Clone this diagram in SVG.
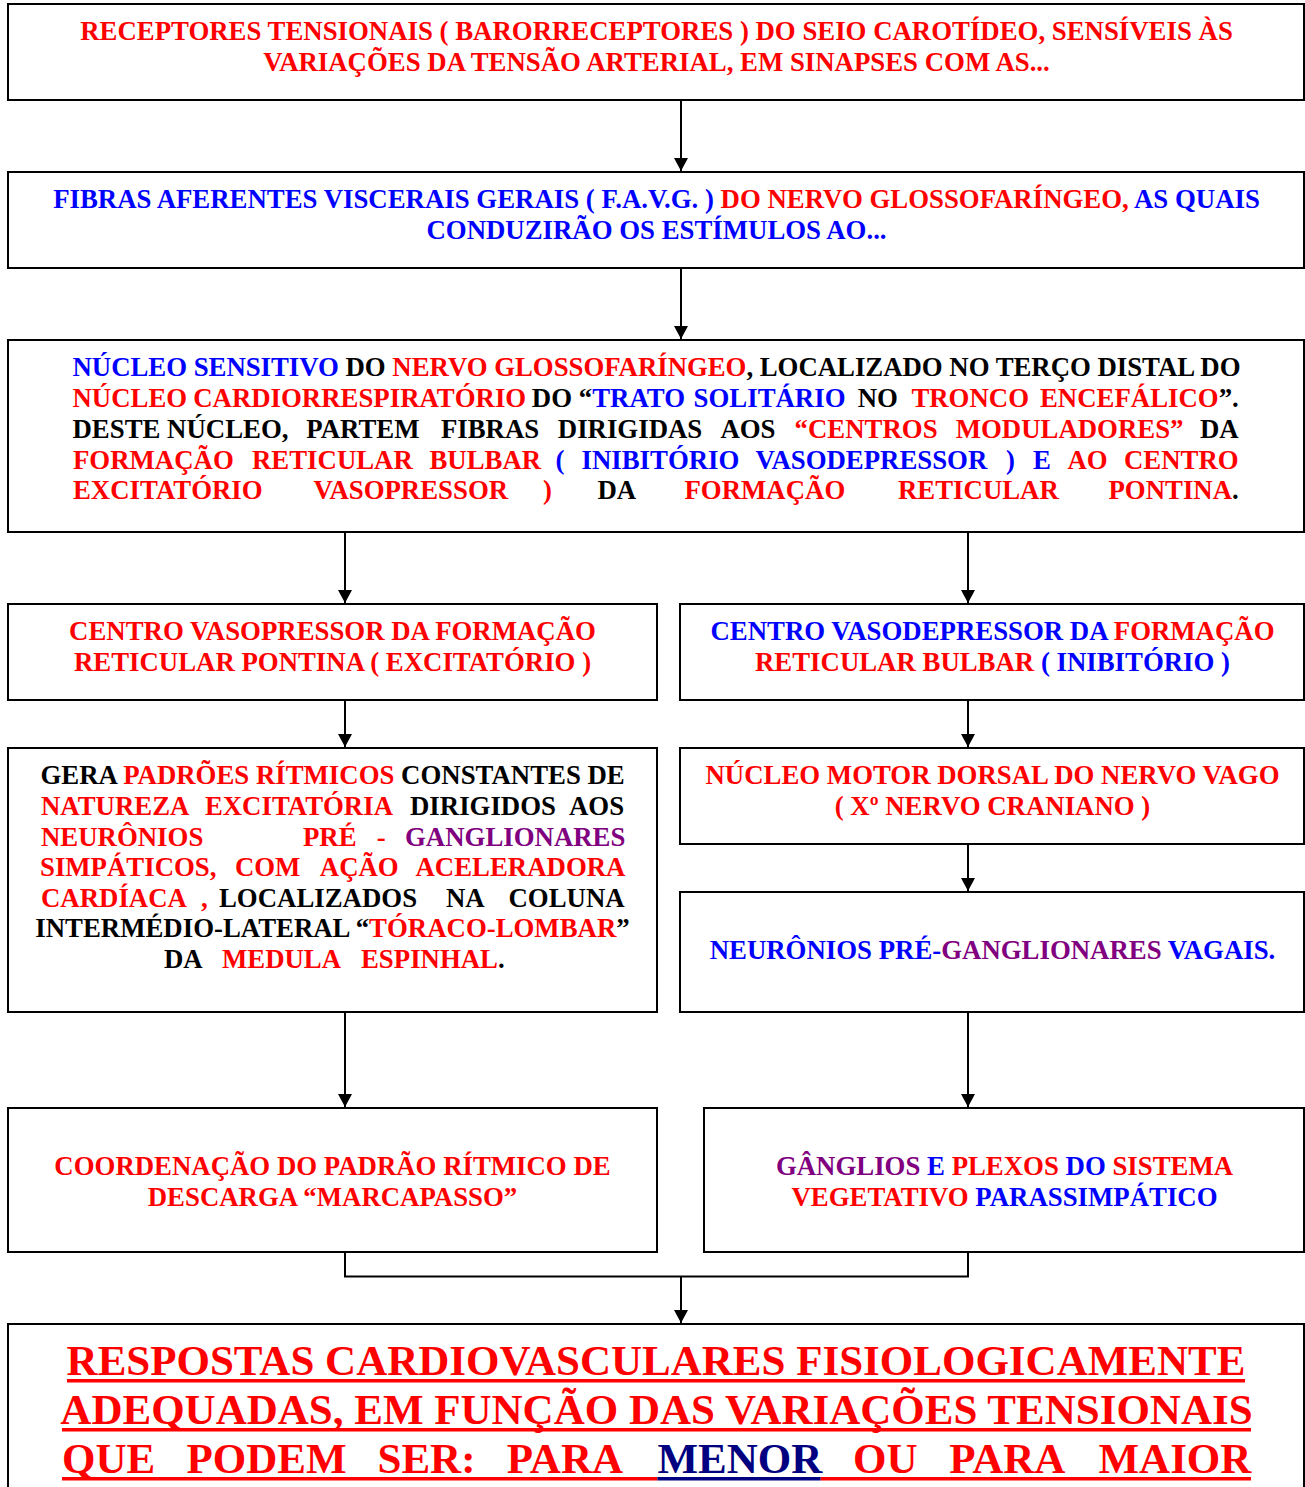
<svg xmlns="http://www.w3.org/2000/svg" width="1305" height="1487" viewBox="0 0 1305 1487">
  <style>
    .t { font-family: "Liberation Serif", "Times New Roman", serif; font-weight: bold; font-size: 26.8px; }
    .big { font-size: 43px; }
    .r { fill: #ff0000; }
    .b { fill: #0000ff; }
    .p { fill: #800080; }
    .k { fill: #000000; }
    .n { fill: #000080; }
    .box { fill: #ffffff; stroke: #000000; stroke-width: 2; }
    .ln { fill: none; stroke: #000000; stroke-width: 2; }
    .arw { fill: none; stroke: #000000; stroke-width: 2; marker-end: url(#head); }
  </style>
  <defs>
    <marker id="head" viewBox="0 0 13 14" refX="13" refY="7" markerWidth="13" markerHeight="14" markerUnits="userSpaceOnUse" orient="auto">
      <path d="M0,0 L13,7 L0,14 z" fill="#000000"/>
    </marker>
  </defs>

  <rect width="1305" height="1487" fill="#ffffff"/>

  <!-- connectors -->
  <g id="connectors">
    <line class="arw" x1="681" y1="100" x2="681" y2="171"/>
    <line class="arw" x1="681" y1="268" x2="681" y2="339"/>
    <line class="arw" x1="345" y1="532" x2="345" y2="603"/>
    <line class="arw" x1="968" y1="532" x2="968" y2="603"/>
    <line class="arw" x1="345" y1="700" x2="345" y2="747"/>
    <line class="arw" x1="968" y1="700" x2="968" y2="747"/>
    <line class="arw" x1="968" y1="844" x2="968" y2="891"/>
    <line class="arw" x1="345" y1="1012" x2="345" y2="1107"/>
    <line class="arw" x1="968" y1="1012" x2="968" y2="1107"/>
    <polyline class="ln" points="345,1252 345,1276.5 968,1276.5 968,1252"/>
    <line class="arw" x1="681" y1="1276.5" x2="681" y2="1323"/>
  </g>

  <!-- receptors -->
  <g id="receptores">
    <rect class="box" x="8" y="4" width="1296" height="96"/>
    <text class="t r" x="656.5" y="40" text-anchor="middle">RECEPTORES TENSIONAIS ( BARORRECEPTORES ) DO SEIO CAROTÍDEO, SENSÍVEIS ÀS</text>
    <text class="t r" x="656.5" y="71" text-anchor="middle">VARIAÇÕES DA TENSÃO ARTERIAL, EM SINAPSES COM AS...</text>
  </g>

  <!-- afferent fibres -->
  <g id="fibras">
    <rect class="box" x="8" y="172" width="1296" height="96"/>
    <text class="t" x="656.5" y="208" text-anchor="middle"><tspan class="b">FIBRAS AFERENTES VISCERAIS GERAIS ( F.A.V.G. ) </tspan><tspan class="r">DO NERVO GLOSSOFARÍNGEO, </tspan><tspan class="b">AS QUAIS</tspan></text>
    <text class="t b" x="656.5" y="239" text-anchor="middle">CONDUZIRÃO OS ESTÍMULOS AO...</text>
  </g>

  <!-- sensory nucleus -->
  <g id="nucleo-sensitivo">
    <rect class="box" x="8" y="340" width="1296" height="192"/>
    <text class="t" x="72.5" y="376" textLength="1168" lengthAdjust="spacing"><tspan class="b">NÚCLEO SENSITIVO </tspan><tspan class="k">DO </tspan><tspan class="r">NERVO GLOSSOFARÍNGEO</tspan><tspan class="k">, LOCALIZADO NO TERÇO DISTAL DO</tspan></text>
    <text class="t" y="407"><tspan class="r" x="72.5">NÚCLEO</tspan><tspan class="r" x="193.2">CARDIORRESPIRATÓRIO</tspan><tspan class="k" x="531.8">DO</tspan><tspan class="k" x="578.8">“</tspan><tspan class="b">TRATO</tspan><tspan class="b" x="693.6">SOLITÁRIO</tspan><tspan class="k" x="857.7">NO</tspan><tspan class="r" x="911.4">TRONCO</tspan><tspan class="r" x="1040">ENCEFÁLICO</tspan><tspan class="k">”.</tspan></text>
    <text class="t" y="438"><tspan class="k" x="72.5">DESTE NÚCLEO,</tspan><tspan class="k" x="306.3">PARTEM</tspan><tspan class="k" x="440.9">FIBRAS</tspan><tspan class="k" x="557.8">DIRIGIDAS</tspan><tspan class="k" x="720.4">AOS</tspan><tspan class="r" x="794.6">“CENTROS</tspan><tspan class="r" x="955.7">MODULADORES”</tspan><tspan class="k" x="1200">DA</tspan></text>
    <text class="t" y="468.5"><tspan class="r" x="73">FORMAÇÃO</tspan><tspan class="r" x="252">RETICULAR</tspan><tspan class="r" x="429.5">BULBAR</tspan><tspan class="b" x="555.5">(</tspan><tspan class="b" x="581.5">INIBITÓRIO</tspan><tspan class="b" x="755.5">VASODEPRESSOR</tspan><tspan class="b" x="1006">)</tspan><tspan class="b" x="1033">E</tspan><tspan class="r" x="1067.5">AO</tspan><tspan class="r" x="1124">CENTRO</tspan></text>
    <text class="t" y="499"><tspan class="r" x="73">EXCITATÓRIO</tspan><tspan class="r" x="313.5">VASOPRESSOR</tspan><tspan class="r" x="543">)</tspan><tspan class="k" x="597.5">DA</tspan><tspan class="r" x="684.5">FORMAÇÃO</tspan><tspan class="r" x="898">RETICULAR</tspan><tspan class="r" x="1108.5">PONTINA</tspan><tspan class="k">.</tspan></text>
  </g>

  <!-- pontine pressor centre -->
  <g id="centro-vasopressor">
    <rect class="box" x="8" y="604" width="649" height="96"/>
    <text class="t r" x="332.5" y="640" text-anchor="middle">CENTRO VASOPRESSOR DA FORMAÇÃO</text>
    <text class="t r" x="332.5" y="671" text-anchor="middle">RETICULAR PONTINA ( EXCITATÓRIO )</text>
  </g>

  <!-- bulbar depressor centre -->
  <g id="centro-vasodepressor">
    <rect class="box" x="680" y="604" width="624" height="96"/>
    <text class="t" x="992.5" y="640" text-anchor="middle"><tspan class="b">CENTRO VASODEPRESSOR DA </tspan><tspan class="r">FORMAÇÃO</tspan></text>
    <text class="t" x="992.5" y="671" text-anchor="middle"><tspan class="r">RETICULAR BULBAR </tspan><tspan class="b">( INIBITÓRIO )</tspan></text>
  </g>

  <!-- rhythmic pattern generator -->
  <g id="padroes-ritmicos">
    <rect class="box" x="8" y="748" width="649" height="264"/>
    <text class="t" x="40.5" y="784"><tspan class="k">GERA </tspan><tspan class="r">PADRÕES RÍTMICOS </tspan><tspan class="k">CONSTANTES DE</tspan></text>
    <text class="t" y="815"><tspan class="r" x="41">NATUREZA</tspan><tspan class="r" x="204.9">EXCITATÓRIA</tspan><tspan class="k" x="410">DIRIGIDOS</tspan><tspan class="k" x="569">AOS</tspan></text>
    <text class="t" y="846"><tspan class="r" x="41">NEURÔNIOS</tspan><tspan class="r" x="303">PRÉ</tspan><tspan class="r" x="376.7">-</tspan><tspan class="p" x="405">GANGLIONARES</tspan></text>
    <text class="t" y="876"><tspan class="r" x="40">SIMPÁTICOS,</tspan><tspan class="r" x="234.9">COM</tspan><tspan class="r" x="319.8">AÇÃO</tspan><tspan class="r" x="415.5">ACELERADORA</tspan></text>
    <text class="t" y="907"><tspan class="r" x="41">CARDÍACA</tspan><tspan class="r" x="201">,</tspan><tspan class="k" x="219">LOCALIZADOS</tspan><tspan class="k" x="446">NA</tspan><tspan class="k" x="508.5">COLUNA</tspan></text>
    <text class="t" x="332.5" y="937" text-anchor="middle"><tspan class="k">INTERMÉDIO-LATERAL “</tspan><tspan class="r">TÓRACO-LOMBAR</tspan><tspan class="k">”</tspan></text>
    <text class="t" y="968"><tspan class="k" x="164">DA</tspan><tspan class="r" x="222">MEDULA</tspan><tspan class="r" x="361">ESPINHAL</tspan><tspan class="k">.</tspan></text>
  </g>

  <!-- dorsal motor nucleus of the vagus -->
  <g id="nucleo-motor-vago">
    <rect class="box" x="680" y="748" width="624" height="96"/>
    <text class="t r" x="992.5" y="784" text-anchor="middle">NÚCLEO MOTOR DORSAL DO NERVO VAGO</text>
    <text class="t r" x="992.5" y="815" text-anchor="middle">( Xº NERVO CRANIANO )</text>
  </g>

  <!-- vagal preganglionic neurons -->
  <g id="neuronios-vagais">
    <rect class="box" x="680" y="892" width="624" height="120"/>
    <text class="t" x="992.5" y="959" text-anchor="middle"><tspan class="b">NEURÔNIOS PRÉ-</tspan><tspan class="p">GANGLIONARES </tspan><tspan class="b">VAGAIS.</tspan></text>
  </g>

  <!-- pacemaker coordination -->
  <g id="marcapasso">
    <rect class="box" x="8" y="1108" width="649" height="144"/>
    <text class="t r" x="332.5" y="1175" text-anchor="middle">COORDENAÇÃO DO PADRÃO RÍTMICO DE</text>
    <text class="t r" x="332.5" y="1206" text-anchor="middle">DESCARGA “MARCAPASSO”</text>
  </g>

  <!-- parasympathetic ganglia -->
  <g id="ganglios">
    <rect class="box" x="704" y="1108" width="600" height="144"/>
    <text class="t" x="1004.5" y="1175" text-anchor="middle"><tspan class="p">GÂNGLIOS </tspan><tspan class="b">E </tspan><tspan class="r">PLEXOS </tspan><tspan class="b">DO </tspan><tspan class="r">SISTEMA</tspan></text>
    <text class="t" x="1004.5" y="1206" text-anchor="middle"><tspan class="r">VEGETATIVO </tspan><tspan class="b">PARASSIMPÁTICO</tspan></text>
  </g>

  <!-- cardiovascular responses -->
  <g id="respostas">
    <rect class="box" x="8" y="1324" width="1296" height="200"/>
    <text class="t big r" x="656" y="1375" text-anchor="middle">RESPOSTAS CARDIOVASCULARES FISIOLOGICAMENTE</text>
    <rect class="r" x="67" y="1379" width="1178" height="3.5"/>
    <text class="t big r" x="656.5" y="1424" text-anchor="middle">ADEQUADAS, EM FUNÇÃO DAS VARIAÇÕES TENSIONAIS</text>
    <rect class="r" x="62" y="1428" width="1189" height="3.5"/>
    <text class="t big" y="1473"><tspan class="r" x="62">QUE</tspan><tspan class="r" x="186.6">PODEM</tspan><tspan class="r" x="377.5">SER:</tspan><tspan class="r" x="506.8">PARA</tspan><tspan class="n" x="657.4">MENOR</tspan><tspan class="r" x="853">OU</tspan><tspan class="r" x="949.2">PARA</tspan><tspan class="r" x="1098.5">MAIOR</tspan></text>
    <rect class="r" x="62" y="1477" width="595.4" height="3.5"/>
    <rect class="n" x="657.4" y="1477" width="163.3" height="3.5"/>
    <rect class="r" x="820.7" y="1477" width="430.3" height="3.5"/>
  </g>
</svg>
